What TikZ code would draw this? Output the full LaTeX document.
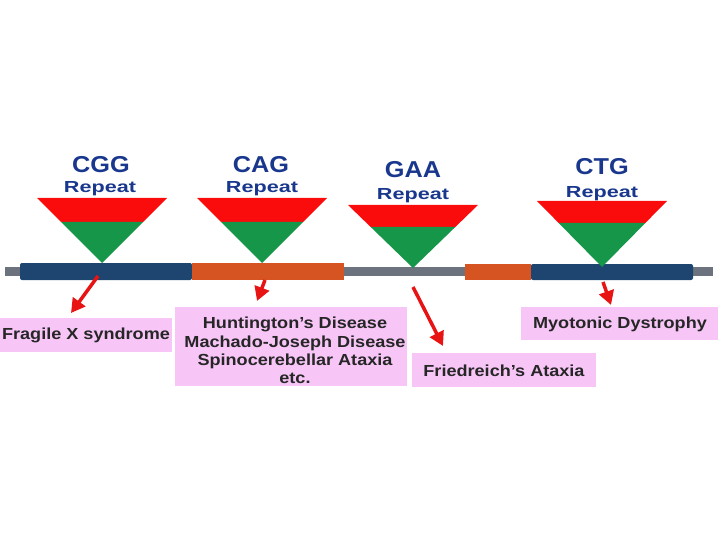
\documentclass[tikz,border=0pt]{standalone}
\usepackage{fontspec}
\setmainfont{Liberation Sans}
\newfontfamily\titlefont[FakeStretch=1.1]{Liberation Sans}
\newfontfamily\repfont[FakeStretch=1.35]{Liberation Sans}
\newfontfamily\disfont[FakeStretch=1.13]{Liberation Sans}
\usetikzlibrary{arrows.meta}
\definecolor{tred}{RGB}{250,12,12}
\definecolor{ared}{RGB}{232,20,20}
\definecolor{tgreen}{RGB}{22,150,72}
\definecolor{barblue}{RGB}{30,68,112}
\definecolor{barorange}{RGB}{214,84,34}
\definecolor{rodgray}{RGB}{108,114,126}
\definecolor{tblue}{RGB}{25,55,140}
\definecolor{boxpink}{RGB}{247,198,247}
\newcommand{\reptri}[5]{%
  \pgfmathsetmacro{\hwb}{#4*(#3-#5)/(#3-#2)}%
  \fill[tred] (#1-#4,#2) -- (#1+#4,#2) -- (#1+\hwb,#5) -- (#1-\hwb,#5) -- cycle;
  \fill[tgreen] (#1-\hwb,#5) -- (#1+\hwb,#5) -- (#1,#3) -- cycle;}
\begin{document}
\begin{tikzpicture}[x=1pt,y=-1pt,
 title/.style={text=tblue, font=\titlefont\bfseries\fontsize{23}{23}\selectfont, inner sep=0, anchor=base},
 rep/.style={text=tblue, font=\repfont\bfseries\fontsize{16}{16}\selectfont, inner sep=0, anchor=base},
 pinkbox/.style={fill=boxpink, inner sep=0},
 disease/.style={font=\disfont\bfseries\fontsize{16}{18.2}\selectfont, align=center, inner sep=0, text=black!85},
 redarrow/.style={draw=ared, line width=3.5pt, -{Triangle[length=14pt,width=15pt]}}]
\useasboundingbox (0,0) rectangle (720,540);
% rod and bar
\fill[rodgray] (5,267) rectangle (713,276);
\fill[barblue, rounded corners=2pt] (20,263) rectangle (192,280);
\fill[barorange] (192,263) rectangle (344,280);
\fill[barorange] (465,264) rectangle (531,280);
\fill[barblue, rounded corners=2pt] (531,264) rectangle (693,280);
% triangles
\reptri{102}{198}{263}{65}{222}
\reptri{262}{198}{263}{65}{222}
\reptri{413}{205}{268}{65}{227}
\reptri{602}{201}{267}{65}{223}
% titles
\node[title] (cgg) at (101,173) {CGG};
\node[rep] (cggr) at (100,193) {Repeat};
\node[title] (cag) at (261,173) {CAG};
\node[rep] (cagr) at (262,193) {Repeat};
\node[title] (gaa) at (413,178) {GAA};
\node[rep] (gaar) at (413,200) {Repeat};
\node[title] (ctg) at (602,175) {CTG};
\node[rep] (ctgr) at (602,197) {Repeat};
% disease boxes
\node[pinkbox, minimum width=172pt, minimum height=34pt] (fxbox) at (86,335) {};
\node[disease] (fx) at (86,335) {Fragile X syndrome};
\node[pinkbox, minimum width=232pt, minimum height=79pt] (hdbox) at (291,346.5) {};
\node[disease] (hd) at (295,350.5)
  {Huntington’s Disease\\Machado-Joseph Disease\\Spinocerebellar Ataxia\\etc.};
\node[pinkbox, minimum width=184pt, minimum height=34pt] (fabox) at (504,370) {};
\node[disease] (fa) at (504,371) {Friedreich’s Ataxia};
\node[pinkbox, minimum width=197pt, minimum height=33pt] (mdbox) at (619.5,323.5) {};
\node[disease] (md) at (620,324) {Myotonic Dystrophy};
% arrows
\coordinate (a1s) at (98,276); \coordinate (a1e) at (71,313);
\coordinate (a2s) at (265,280); \coordinate (a2e) at (257,301);
\coordinate (a3s) at (413,287); \coordinate (a3e) at (443,346);
\coordinate (a4s) at (603,282); \coordinate (a4e) at (611,305);
\draw[redarrow] (a1s) -- (a1e);
\draw[redarrow] (a2s) -- (a2e);
\draw[redarrow] (a3s) -- (a3e);
\draw[redarrow] (a4s) -- (a4e);
\end{tikzpicture}
\end{document}
